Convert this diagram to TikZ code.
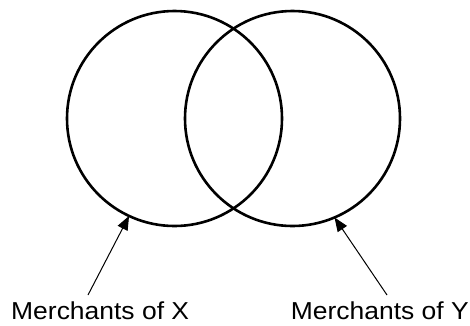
\documentclass[tikz,border=0pt]{standalone}
\usepackage{fontspec}
\setmainfont{Liberation Sans}
\newfontfamily\labfont[FakeStretch=1.08]{Liberation Sans}
\usetikzlibrary{arrows.meta}
\begin{document}
\begin{tikzpicture}[x=1pt,y=-1pt,
  set/.style={circle,draw,line width=2.6pt,minimum size=215pt,inner sep=0pt,outer sep=0pt},
  lab/.style={font=\labfont\fontsize{24.5}{28}\selectfont,inner sep=0pt},
  pointer/.style={line width=1pt,-{Triangle[length=14pt,width=11pt]}}]
\useasboundingbox (0,0) rectangle (470,325);
\node[set] (cx) at (174.5,118.5) {};
\node[set] (cy) at (292.5,118.5) {};
\node[lab,anchor=base west] (lx) at (11,319) {Merchants of X};
\node[lab,anchor=base east] (ly) at (469,319) {Merchants of Y};
\coordinate (tx) at (88,295);
\coordinate (ty) at (387,295);
\draw[pointer] (tx) -- (cx.245);
\draw[pointer] (ty) -- (cy.293);
\end{tikzpicture}
\end{document}
